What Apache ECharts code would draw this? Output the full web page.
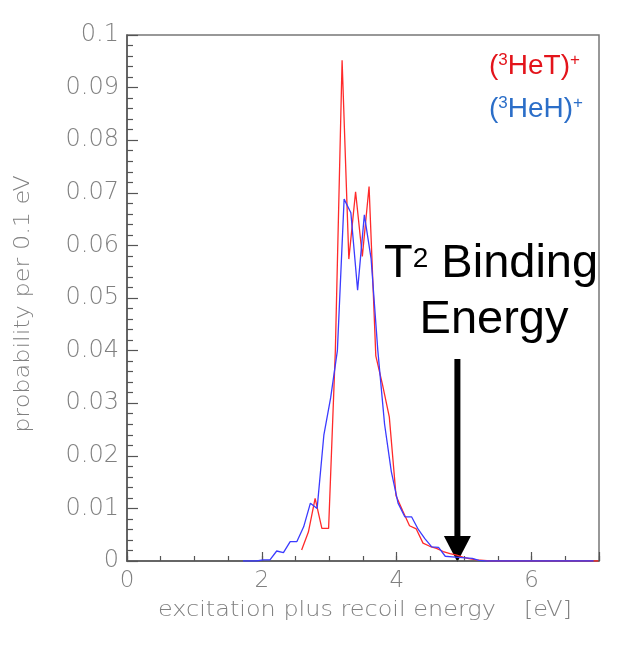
<!DOCTYPE html>
<html>
<head>
<meta charset="utf-8">
<script src="https://cdn.jsdelivr.net/npm/echarts@6/dist/echarts.min.js"></script>
<style>
html,body{margin:0;padding:0;background:#fff;}
#c{width:623px;height:646px;}
</style>
</head>
<body>
<div id="c"></div>
<script>
// Energies (eV) and probabilities per 0.1 eV
const hetEnergy = [2.59,2.69,2.79,2.89,2.99,3.09,3.19,3.29,3.39,3.49,3.59,3.69,3.79,3.89,3.99,4.09,4.19,4.29,4.39,4.49,4.59,4.69,4.79,4.89,4.99,5.09,5.19,5.29,5.39,5.49,5.59,5.69,5.79,5.89,5.99,6.09,6.19,6.29,6.39,6.49,6.59,6.69,6.79,6.89,6.99];
const hetProb   = [0.0021,0.0055,0.0119,0.0062,0.0062,0.040,0.0952,0.0574,0.0702,0.0579,0.0712,0.039,0.0335,0.0274,0.0124,0.0095,0.0067,0.0061,0.0034,0.0028,0.0024,0.0018,0.0014,0.0011,0.0007,0.0004,0.0002,0.0001,0,0,0,0,0,0,0,0,0,0,0,0,0,0,0,0,0];
const hehEnergy = [1.72,1.82,1.92,2.02,2.12,2.22,2.32,2.42,2.52,2.62,2.72,2.82,2.92,3.02,3.12,3.22,3.32,3.42,3.52,3.62,3.72,3.82,3.92,4.02,4.12,4.22,4.32,4.42,4.52,4.62,4.72,4.82,4.92,5.02,5.12,5.22,5.32,5.42,5.52,5.62,5.72,5.82,5.92,6.02,6.12,6.22,6.32,6.42,6.52,6.62,6.72,6.82,6.92];
const hehProb   = [0,0,0,0.0002,0.0002,0.0019,0.0016,0.0037,0.0037,0.0065,0.011,0.010,0.024,0.031,0.040,0.0688,0.0662,0.0515,0.0658,0.0575,0.040,0.026,0.017,0.011,0.0084,0.0084,0.006,0.0042,0.0027,0.0026,0.0009,0.0008,0.0007,0.0006,0.0005,0.0001,0,0,0,0,0,0,0,0,0,0,0,0,0,0,0,0,0];
const xLabels = [0,2,4,6];
const bindingEnergy = 4.9;

const axisGray = '#555';
const labelGray = '#808080';
const lblFont = 'DejaVu Sans';

const chart = echarts.init(document.getElementById('c'));
const option = {
  animation: false,
  backgroundColor: '#fff',
  grid: {left: 127, top: 35, right: 24, bottom: 85, show: true, borderColor: '#777', borderWidth: 1.5, backgroundColor: 'transparent'},
  xAxis: [{
    type: 'value', min: 0, max: 7, interval: 0.5,
    axisLine: {show: true, lineStyle: {color: axisGray, width: 1.5}},
    axisTick: {show: true, inside: true, length: 5, lineStyle: {color: axisGray, width: 1.2}},
    splitLine: {show: false},
    axisLabel: {
      margin: 9, color: labelGray, fontFamily: lblFont, fontSize: 23, fontWeight: 200,
      formatter: v => (xLabels.indexOf(Math.round(v*100)/100) >= 0 ? String(v) : '')
    }
  },{
    type: 'value', min: 0, max: 7, interval: 2, position: 'bottom',
    axisLine: {show: false},
    axisTick: {show: true, inside: true, length: 9, lineStyle: {color: axisGray, width: 1.2}},
    splitLine: {show: false},
    axisLabel: {show: false}
  }],
  yAxis: {
    type: 'value', min: 0, max: 0.1, interval: 0.01,
    axisLine: {show: true, lineStyle: {color: axisGray, width: 1.5}},
    axisTick: {show: true, inside: true, length: 11, lineStyle: {color: axisGray, width: 1.2}},
    minorTick: {show: true, splitNumber: 5, length: 6, lineStyle: {color: '#555', width: 1.2}},
    splitLine: {show: false},
    minorSplitLine: {show: false},
    axisLabel: {
      margin: 8, color: labelGray, fontFamily: lblFont, fontSize: 24, fontWeight: 200,
      formatter: v => String(Math.round(v*1000)/1000)
    }
  },
  series: [{
    name: '(3HeT)+', type: 'line', xAxisIndex: 0, showSymbol: false, symbol: 'none',
    data: hetEnergy.map((e,i) => [e, hetProb[i]]),
    lineStyle: {color: '#ff2a2a', width: 1.3}, z: 2
  },{
    name: '(3HeH)+', type: 'line', xAxisIndex: 0, showSymbol: false, symbol: 'none',
    data: hehEnergy.map((e,i) => [e, hehProb[i]]),
    lineStyle: {color: '#3b3bff', width: 1.3}, z: 3
  }]
};
chart.setOption(option);

const ax = chart.convertToPixel({xAxisIndex: 0}, bindingEnergy);
const y0 = chart.convertToPixel({yAxisIndex: 0}, 0);

chart.setOption({
  graphic: [
    // axis titles
    {type: 'text', x: 158, y: 600, scaleX: 1.14, style: {text: 'excitation plus recoil energy', font: '200 21px "DejaVu Sans"', fill: labelGray}},
    {type: 'text', x: 524, y: 600, scaleX: 1.14, style: {text: '[eV]', font: '200 21px "DejaVu Sans"', fill: labelGray}},
    {type: 'text', x: 24, y: 304, rotation: Math.PI/2, scaleX: 1.14,
     style: {text: 'probability per 0.1 eV', font: '200 21px "DejaVu Sans"', fill: labelGray, align: 'center', verticalAlign: 'middle'}},
    // legend-like labels
    {type: 'text', left: 489, top: 52, style: {
      text: '{n|(}{s|3}{n|HeT)}{s|+}', fill: '#e3141b',
      rich: {n: {fontSize: 28, fontFamily: 'Liberation Sans', fill: '#e3141b', verticalAlign: 'bottom'},
             s: {fontSize: 17, fontFamily: 'Liberation Sans', fill: '#e3141b', verticalAlign: 'top'}}}},
    {type: 'text', left: 489, top: 95, style: {
      text: '{n|(}{s|3}{n|HeH)}{s|+}', fill: '#2b6ec8',
      rich: {n: {fontSize: 28, fontFamily: 'Liberation Sans', fill: '#2b6ec8', verticalAlign: 'bottom'},
             s: {fontSize: 17, fontFamily: 'Liberation Sans', fill: '#2b6ec8', verticalAlign: 'top'}}}},
    // annotation
    {type: 'text', left: 384, top: 241, style: {
      text: '{n|T}{s|2}{n| Binding}', fill: '#000',
      rich: {n: {fontSize: 47, fontFamily: 'Liberation Sans', fill: '#000', verticalAlign: 'bottom'},
             s: {fontSize: 28, fontFamily: 'Liberation Sans', fill: '#000', verticalAlign: 'top', padding: [4,0,0,0]}}}},
    {type: 'text', x: 494, y: 297, style: {text: 'Energy', font: '47px "Liberation Sans"', fill: '#000', align: 'center', verticalAlign: 'top'}},
    {type: 'rect', shape: {x: ax - 3, y: 359, width: 6, height: (y0 - 25) - 359 + 1}, style: {fill: '#000'}},
    {type: 'polygon', shape: {points: [[ax - 13.5, y0 - 25], [ax + 13.5, y0 - 25], [ax, y0 + 1]]}, style: {fill: '#000'}}
  ]
});
</script>
</body>
</html>
